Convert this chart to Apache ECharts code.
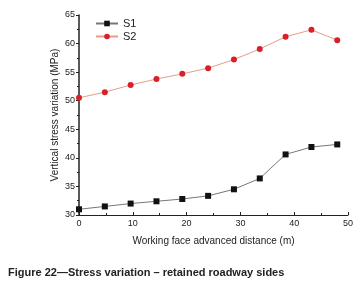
<!DOCTYPE html>
<html>
<head>
<meta charset="utf-8">
<script src="https://cdn.jsdelivr.net/npm/echarts@6/dist/echarts.min.js"></script>
<style>
  html, body { margin: 0; padding: 0; background: #fff; }
  #chart { width: 364px; height: 283px; }
</style>
</head>
<body>
<div id="chart"></div>
<script>
  // distances along the face (m)
  let distance = [0, 4.8, 9.6, 14.4, 19.2, 24, 28.8, 33.6, 38.4, 43.2, 48]
  let s1 = [31.0, 31.5, 32.0, 32.4, 32.8, 33.35, 34.5, 36.4, 40.6, 41.9, 42.35]
  let s2 = [50.5, 51.5, 52.75, 53.8, 54.7, 55.7, 57.2, 59.05, 61.2, 62.4, 60.6]
  let seriesNames = ['S1', 'S2']

  let chart = echarts.init(document.getElementById('chart'))

  let toPairs = (vals) => vals.map((v, i) => [distance[i], v])

  let options = {
    animation: false,
    textStyle: { fontFamily: 'Liberation Sans, Arial, sans-serif' },
    title: {
      text: 'Figure 22\u2014Stress variation \u2013 retained roadway sides',
      left: 3,
      top: 262,
      textStyle: { fontSize: 11, fontWeight: 'bold', color: '#222' }
    },
    grid: { left: 79, right: 16, top: 15, bottom: 68 },
    legend: {
      data: seriesNames,
      orient: 'vertical',
      left: 90,
      top: 13,
      itemGap: 2,
      itemWidth: 22,
      itemHeight: 7,
      textStyle: { fontSize: 11, color: '#222' }
    },
    xAxis: {
      type: 'value',
      min: 0,
      max: 50,
      interval: 10,
      name: 'Working face advanced distance (m)',
      nameLocation: 'middle',
      nameGap: 21,
      nameTextStyle: { fontSize: 10, color: '#222' },
      axisLine: { lineStyle: { color: '#222', width: 1 } },
      axisTick: { inside: true, length: 3, lineStyle: { color: '#222' } },
      minorTick: { show: true, splitNumber: 2, length: 2, lineStyle: { color: '#222' } },
      splitLine: { show: false },
      axisLabel: { fontSize: 9, color: '#222', margin: 4 }
    },
    yAxis: {
      type: 'value',
      min: 30,
      max: 65,
      interval: 5,
      name: 'Vertical stress variation (MPa)',
      nameLocation: 'middle',
      nameGap: 19,
      nameMoveOverlap: false,
      nameTextStyle: { fontSize: 10, color: '#222' },
      axisLine: { show: true, lineStyle: { color: '#222', width: 1.5 } },
      axisTick: { show: true, length: 3, lineStyle: { color: '#222' } },
      minorTick: { show: true, splitNumber: 2, length: 2, lineStyle: { color: '#222' } },
      splitLine: { show: false },
      axisLabel: { fontSize: 9, color: '#222', margin: 4 }
    },
    series: [
      {
        name: 'S1',
        type: 'line',
        data: toPairs(s1),
        symbol: 'rect',
        symbolSize: 6,
        itemStyle: { color: '#111' },
        lineStyle: { color: '#777', width: 1 }
      },
      {
        name: 'S2',
        type: 'line',
        data: toPairs(s2),
        symbol: 'circle',
        symbolSize: 6,
        itemStyle: { color: '#d8202b' },
        lineStyle: { color: '#e89a88', width: 1 }
      }
    ]
  }

  chart.setOption(options, true)
</script>
</body>
</html>
